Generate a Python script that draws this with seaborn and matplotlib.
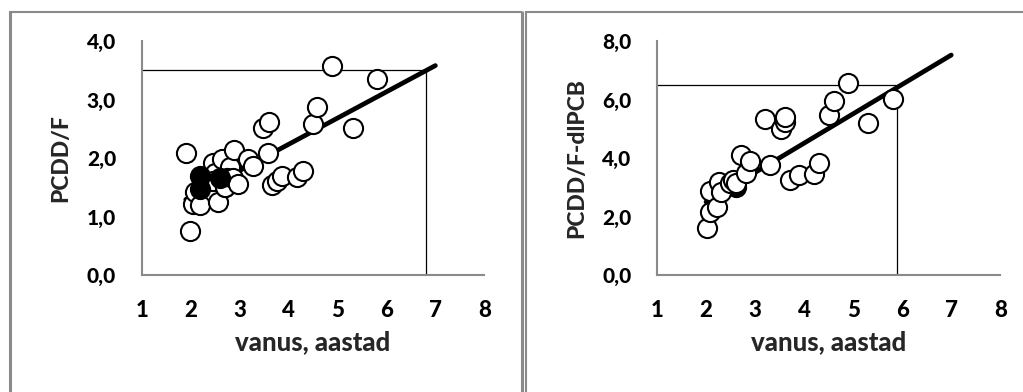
import matplotlib
matplotlib.use("Agg")
import matplotlib.pyplot as plt
from matplotlib.lines import Line2D
from matplotlib.ticker import FuncFormatter
import seaborn as sns
import pandas as pd

# ---------------- data ----------------
# Left panel: PCDD/F vs age
left_open_x = [1.90, 1.99, 2.05, 2.08, 2.19, 2.46, 2.50, 2.45, 2.56, 2.65, 2.70, 2.80, 2.75,
               2.89, 2.71, 2.87, 2.97, 3.18, 3.28, 3.48, 3.60, 3.59, 3.67, 3.76, 3.86,
               4.18, 4.30, 4.49, 4.59, 4.89, 5.31, 5.80]
left_open_y = [2.08, 0.76, 1.22, 1.42, 1.19, 1.91, 1.74, 1.60, 1.25, 1.98, 1.50, 1.85, 1.65,
               2.14, 1.51, 1.65, 1.55, 1.98, 1.87, 2.51, 2.62, 2.08, 1.54, 1.60, 1.69,
               1.68, 1.77, 2.58, 2.88, 3.57, 2.52, 3.35]
left_fill_x = [2.19, 2.19, 2.60]
left_fill_y = [1.70, 1.47, 1.65]
left_fit_x = [1.9, 7.0]
left_fit_y = [1.29, 3.58]
left_ref_x = [1.0, 6.8, 6.8]
left_ref_y = [3.5, 3.5, 0.0]
left_yticks = [0, 1, 2, 3, 4]

# Right panel: PCDD/F-dlPCB vs age
right_open_x = [2.02, 2.09, 2.09, 2.22, 2.27, 2.31, 2.48, 2.54, 2.61, 2.71, 2.82, 2.90,
                3.31, 3.20, 3.52, 3.60, 3.61, 3.72, 3.90, 4.20, 4.31, 4.50, 4.60, 4.90,
                5.31, 5.81]
right_open_y = [1.60, 2.17, 2.88, 2.34, 3.19, 2.85, 3.13, 3.25, 3.13, 4.10, 3.48, 3.91,
                3.76, 5.33, 4.98, 5.24, 5.39, 3.25, 3.42, 3.45, 3.84, 5.47, 5.96, 6.55,
                5.21, 6.02]
right_fill_x = [2.62]
right_fill_y = [3.01]
right_fit_x = [2.0, 7.0]
right_fit_y = [2.50, 7.52]
right_ref_x = [1.0, 5.9, 5.9]
right_ref_y = [6.5, 6.5, 0.0]
right_yticks = [0, 2, 4, 6, 8]

x_ticks = [1, 2, 3, 4, 5, 6, 7, 8]
x_label = "vanus, aastad"
left_ylabel = "PCDD/F"
right_ylabel = "PCDD/F-dlPCB"

# ---------------- style ----------------
sns.set_style("white")
plt.rcParams["font.family"] = ["Lato", "DejaVu Sans"]

W, H = 1023, 392
fig = plt.figure(figsize=(W / 100, H / 100), dpi=100)

GRAY = "#8a8a8a"
FW = "black"
FS_XT, FS_YT, FS_XL, FS_YL = 16, 15, 18.5, 16.5


def px_axes(x0, x1, ytop, ybot):
    return fig.add_axes([x0 / W, 1 - ybot / H, (x1 - x0) / W, (ybot - ytop) / H])


def draw_panel(ax, ox, oy, fx, fy, fitx, fity, refx, refy, yticks, ylabel, fill_on_top):
    ax.plot(refx, refy, color="black", lw=0.9, zorder=1, solid_capstyle="butt")
    sns.lineplot(x=fitx, y=fity, ax=ax, color="black", lw=3.4, zorder=2,
                 solid_capstyle="round")
    open_df = pd.DataFrame({"x": ox, "y": oy})
    fill_df = pd.DataFrame({"x": fx, "y": fy})
    zo_open, zo_fill = (3, 4) if fill_on_top else (4, 3)
    sns.scatterplot(data=open_df, x="x", y="y", ax=ax, s=190, facecolor="white",
                    edgecolor="black", linewidth=1.5, zorder=zo_open)
    sns.scatterplot(data=fill_df, x="x", y="y", ax=ax, s=190, facecolor="black",
                    edgecolor="black", linewidth=1.5, zorder=zo_fill)
    ax.set_xlim(1, 8)
    ax.set_ylim(yticks[0], yticks[-1])
    ax.set_xticks(x_ticks)
    ax.set_yticks(yticks)
    ax.yaxis.set_major_formatter(FuncFormatter(lambda v, p: f"{v:.1f}".replace(".", ",")))
    for s in ["top", "right"]:
        ax.spines[s].set_visible(False)
    for s in ["left", "bottom"]:
        ax.spines[s].set_color(GRAY)
        ax.spines[s].set_linewidth(1.5)
    ax.tick_params(axis="both", direction="out", length=6, width=1.5, color=GRAY,
                   labelcolor="black")
    ax.tick_params(axis="x", pad=12, labelsize=FS_XT)
    ax.tick_params(axis="y", pad=12.5, labelsize=FS_YT)
    for lab in ax.get_xticklabels() + ax.get_yticklabels():
        lab.set_fontweight(FW)
    ax.set_xlabel(x_label, fontsize=FS_XL, fontweight=FW)
    ax.set_ylabel(ylabel, fontsize=FS_YL, fontweight=FW)
    ax.set_facecolor("none")
    ax.patch.set_alpha(0)


ax1 = px_axes(141.7, 484.3, 41, 275)
draw_panel(ax1, left_open_x, left_open_y, left_fill_x, left_fill_y, left_fit_x, left_fit_y,
           left_ref_x, left_ref_y, left_yticks, left_ylabel, True)
ax1.yaxis.set_label_coords(-0.205, 0.5)
ax1.xaxis.set_label_coords(0.5, -0.235)

ax2 = px_axes(657, 1000.3, 41, 275)
draw_panel(ax2, right_open_x, right_open_y, right_fill_x, right_fill_y, right_fit_x, right_fit_y,
           right_ref_x, right_ref_y, right_yticks, right_ylabel, False)
ax2.yaxis.set_label_coords(-0.202, 0.5)
ax2.xaxis.set_label_coords(0.5, -0.235)


# panel borders (figure pixel coordinates)
def fline(x0, y0, x1, y1, lw):
    fig.add_artist(Line2D([x0 / W, x1 / W], [1 - y0 / H, 1 - y1 / H], color=GRAY, lw=lw,
                          transform=fig.transFigure, solid_capstyle="butt"))


fline(9.5, 12, 9.5, H, 2.2)
fline(8.5, 12, 521.5, 12, 1.5)
fline(521.5, 11.3, 521.5, H, 2.2)
fline(525.5, 11.3, 525.5, H, 1.5)
fline(525, 12, W, 12, 1.5)

fig.savefig("out.png", dpi=100)
